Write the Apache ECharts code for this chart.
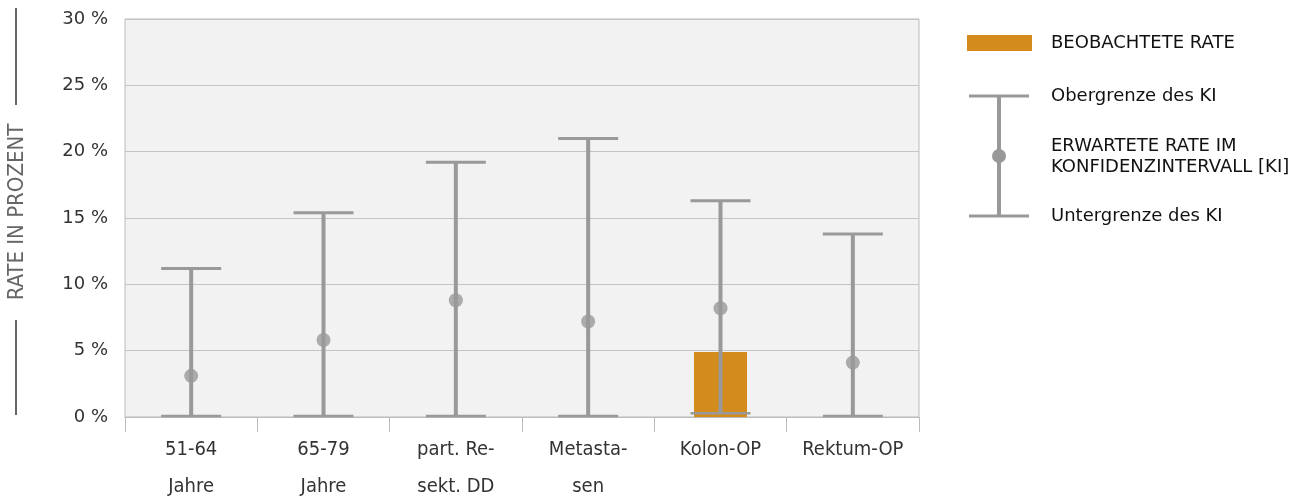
<!DOCTYPE html>
<html><head><meta charset="utf-8">
<script src="https://cdn.jsdelivr.net/npm/echarts@6/dist/echarts.min.js"></script>
<style>html,body{margin:0;padding:0;background:#fff}#c{width:1309px;height:499px}</style>
</head><body><div id="c"></div>
<script>
const categories = ['51-64\nJahre', '65-79\nJahre', 'part. Re-\nsekt. DD', 'Metasta-\nsen', 'Kolon-OP', 'Rektum-OP'];
const observed = ['-', '-', '-', '-', 4.9, '-'];
const expected = [3.1, 5.8, 8.8, 7.2, 8.2, 4.1];
const lowerCI = [0, 0, 0, 0, 0.2, 0];
const upperCI = [11.2, 15.4, 19.2, 21.0, 16.3, 13.8];
const yTicks = [0, 5, 10, 15, 20, 25, 30];

const narrow = "'Liberation Sans Narrow', 'DejaVu Sans Condensed', 'Noto Sans', sans-serif";
const regular = "'DejaVu Sans', sans-serif";
const grey = '#999999';

const chart = echarts.init(document.getElementById('c'), null, {renderer: 'canvas'});
chart.setOption({
  animation: false,
  grid: {left: 125, right: 390, top: 19, bottom: 82, outerBoundsMode: 'none', containLabel: false,
    show: true, backgroundColor: '#f2f2f2', borderColor: '#bbbbbb', borderWidth: 1},
  xAxis: {
    type: 'category', data: categories,
    axisLine: {lineStyle: {color: '#bbbbbb'}},
    axisTick: {show: true, length: 15, lineStyle: {color: '#bbbbbb'}},
    axisLabel: {interval: 0, margin: 14, fontFamily: narrow, fontSize: 20, color: '#333', lineHeight: 37}
  },
  yAxis: {
    type: 'value', min: yTicks[0], max: yTicks[yTicks.length - 1], interval: 5,
    axisLine: {show: false}, axisTick: {show: false},
    splitLine: {lineStyle: {color: '#c4c4c4'}},
    axisLabel: {formatter: v => v + ' %', fontFamily: regular, fontSize: 18, color: '#333', margin: 17}
  },
  series: [
    {type: 'bar', data: observed, barWidth: 53, itemStyle: {color: '#d38b1b'}, z: 2},
    {type: 'custom', z: 3,
      data: categories.map((c, i) => [i, lowerCI[i], upperCI[i]]),
      renderItem: function (params, api) {
        const lo = api.coord([api.value(0), api.value(1)]);
        const hi = api.coord([api.value(0), api.value(2)]);
        const hw = 30;
        return {type: 'group', children: [
          {type: 'line', shape: {x1: lo[0], y1: lo[1], x2: hi[0], y2: hi[1]}, style: {stroke: grey, lineWidth: 4}},
          {type: 'line', shape: {x1: hi[0] - hw, y1: hi[1], x2: hi[0] + hw, y2: hi[1]}, style: {stroke: grey, lineWidth: 3}},
          {type: 'line', shape: {x1: lo[0] - hw, y1: lo[1] - 1, x2: lo[0] + hw, y2: lo[1] - 1}, style: {stroke: grey, lineWidth: 2.5}}
        ]};
      }
    },
    {type: 'scatter', z: 4, data: expected, symbol: 'circle', symbolSize: 14, itemStyle: {color: grey}}
  ],
  graphic: [
    {type: 'line', shape: {x1: 16, y1: 8, x2: 16, y2: 105}, style: {stroke: '#666', lineWidth: 2}},
    {type: 'line', shape: {x1: 16, y1: 320, x2: 16, y2: 415}, style: {stroke: '#666', lineWidth: 2}},
    {type: 'text', x: 17, y: 212, rotation: Math.PI / 2,
      style: {text: 'RATE IN PROZENT', font: "22px " + narrow, fill: '#666', align: 'center', verticalAlign: 'middle'}},
    {type: 'rect', shape: {x: 967, y: 35, width: 65, height: 16}, style: {fill: '#d38b1b'}},
    {type: 'text', x: 1051, y: 43, style: {text: 'BEOBACHTETE RATE', font: "18px " + regular, fill: '#111', verticalAlign: 'middle'}},
    {type: 'line', shape: {x1: 999, y1: 96, x2: 999, y2: 216}, style: {stroke: grey, lineWidth: 4}},
    {type: 'line', shape: {x1: 969, y1: 96, x2: 1029, y2: 96}, style: {stroke: grey, lineWidth: 3}},
    {type: 'line', shape: {x1: 969, y1: 216, x2: 1029, y2: 216}, style: {stroke: grey, lineWidth: 3}},
    {type: 'circle', shape: {cx: 999, cy: 156, r: 7}, style: {fill: grey}},
    {type: 'text', x: 1051, y: 96, style: {text: 'Obergrenze des KI', font: "18px " + regular, fill: '#111', verticalAlign: 'middle'}},
    {type: 'text', x: 1051, y: 157, style: {text: 'ERWARTETE RATE IM\nKONFIDENZINTERVALL [KI]', font: "18px " + regular, fill: '#111', verticalAlign: 'middle', lineHeight: 21}},
    {type: 'text', x: 1051, y: 216, style: {text: 'Untergrenze des KI', font: "18px " + regular, fill: '#111', verticalAlign: 'middle'}}
  ]
});
</script></body></html>
